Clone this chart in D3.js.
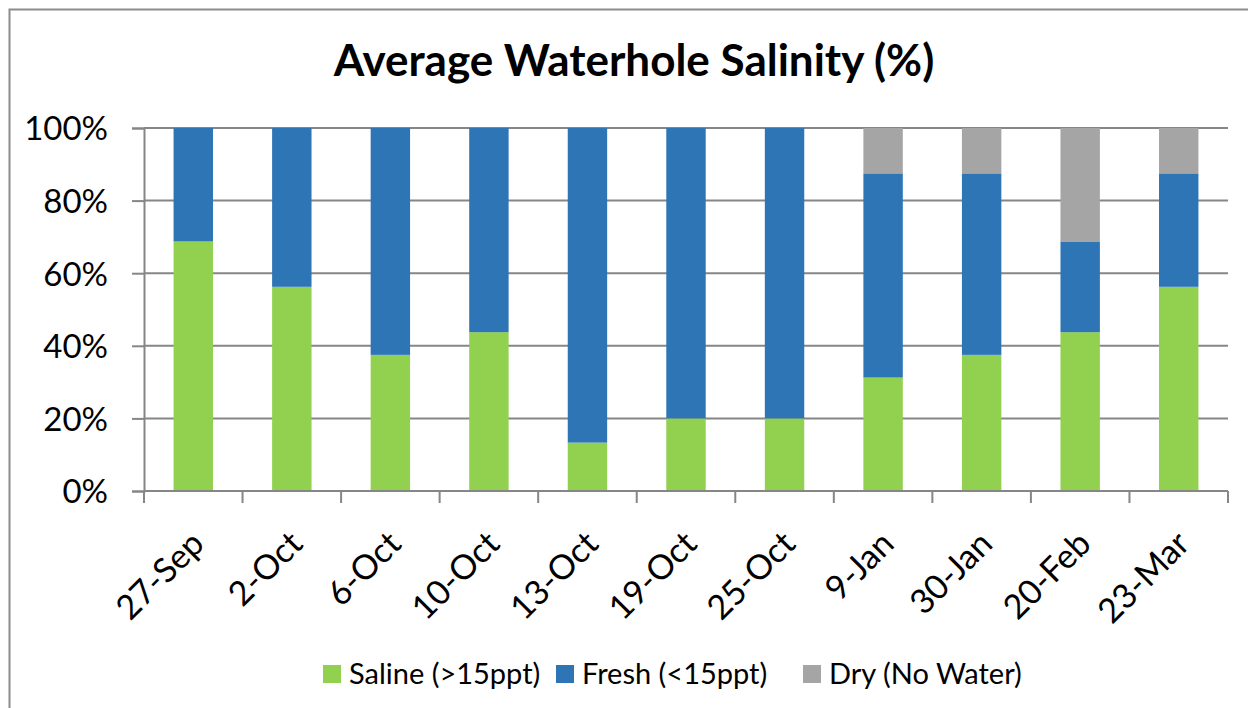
<!DOCTYPE html>
<html>
<head>
<meta charset="utf-8">
<script src="https://cdn.jsdelivr.net/npm/d3@7"></script>
<style>
  body { margin: 0; background: #fff; }
  text { font-family: Lato, "Liberation Sans", sans-serif; fill: #000; }
</style>
</head>
<body>
<svg width="1248" height="708"></svg>
<script>
var dates  = ["27-Sep", "2-Oct", "6-Oct", "10-Oct", "13-Oct", "19-Oct", "25-Oct", "9-Jan", "30-Jan", "20-Feb", "23-Mar"];
var saline = [68.75, 56.25, 37.5, 43.75, 13.33, 20, 20, 31.25, 37.5, 43.75, 56.25];
var fresh  = [31.25, 43.75, 62.5, 56.25, 86.67, 80, 80, 56.25, 50, 25, 31.25];
var dry    = [0, 0, 0, 0, 0, 0, 0, 12.5, 12.5, 31.25, 12.5];
var seriesNames = ["Saline (>15ppt)", "Fresh (<15ppt)", "Dry (No Water)"];
var yTicks = [0, 20, 40, 60, 80, 100];

var colors = ["#92D050", "#2E75B6", "#A5A5A5"];
var gridColor = "#868686";

var svg = d3.select("svg");

// outer chart border
svg.append("rect")
  .attr("x", 9.5).attr("y", 9.5)
  .attr("width", 1260).attr("height", 720)
  .attr("fill", "none")
  .attr("stroke", "#8c8c8c")
  .attr("stroke-width", 2);

svg.append("text")
  .attr("x", 634).attr("y", 76)
  .attr("text-anchor", "middle")
  .style("font-size", "44px")
  .style("font-weight", "bold")
  .text("Average Waterhole Salinity (%)");

var plotL = 144, plotR = 1228, plotT = 128, plotB = 491;

var x = d3.scaleBand()
  .domain(dates)
  .range([plotL, plotR])
  .paddingInner(0.6)
  .paddingOuter(0.3);

var y = d3.scaleLinear()
  .domain([0, 100])
  .range([plotB, plotT]);

// gridlines
svg.append("g")
  .selectAll("line")
  .data(yTicks)
  .enter().append("line")
    .attr("x1", plotL).attr("x2", plotR)
    .attr("y1", function(d){ return y(d); })
    .attr("y2", function(d){ return y(d); })
    .attr("stroke", gridColor)
    .attr("stroke-width", 2);

// stacked bars
var rows = dates.map(function(d, i){
  return {date: d, saline: saline[i], fresh: fresh[i], dry: dry[i]};
});
var stack = d3.stack().keys(["saline", "fresh", "dry"]);
var layers = stack(rows);

svg.append("g")
  .selectAll("g")
  .data(layers)
  .enter().append("g")
    .attr("fill", function(d, i){ return colors[i]; })
  .selectAll("rect")
  .data(function(d){ return d; })
  .enter().append("rect")
    .attr("x", function(d){ return x(d.data.date); })
    .attr("width", x.bandwidth())
    .attr("y", function(d){ return y(d[1]); })
    .attr("height", function(d){ return y(d[0]) - y(d[1]); });

// y axis
var yAxis = d3.axisLeft(y)
  .tickValues(yTicks)
  .tickSize(12)
  .tickPadding(24)
  .tickFormat(function(d){ return d + "%"; });

var yg = svg.append("g")
  .attr("transform", "translate(" + plotL + ",0)")
  .call(yAxis);
yg.select(".domain").attr("stroke", gridColor).attr("stroke-width", 2);
yg.selectAll(".tick line").attr("stroke", gridColor).attr("stroke-width", 2);
yg.selectAll(".tick text")
  .style("font-size", "33px")
  .style("font-family", "Lato, sans-serif")
  .attr("fill", "#000")
  .attr("dy", "0.36em");

// x axis line and category ticks
svg.append("line")
  .attr("x1", plotL).attr("x2", plotR)
  .attr("y1", plotB).attr("y2", plotB)
  .attr("stroke", gridColor).attr("stroke-width", 2);

var step = x.step();
var bounds = dates.map(function(d){ return x(d) + x.bandwidth() / 2 - step / 2; });
bounds.push(plotR);
svg.append("g")
  .selectAll("line")
  .data(bounds)
  .enter().append("line")
    .attr("x1", function(d){ return d; })
    .attr("x2", function(d){ return d; })
    .attr("y1", plotB).attr("y2", plotB + 12)
    .attr("stroke", gridColor).attr("stroke-width", 2);

svg.append("g")
  .selectAll("text")
  .data(dates)
  .enter().append("text")
    .attr("transform", function(d){
      return "translate(" + (x(d) + x.bandwidth() / 2 - 4) + "," + 529 + ") rotate(-45)";
    })
    .attr("text-anchor", "end")
    .attr("dy", "0.7em")
    .style("font-size", "34px")
    .text(function(d){ return d; });

// legend
var legendX = [323, 556, 803];
var lg = svg.append("g")
  .selectAll("g")
  .data(seriesNames)
  .enter().append("g")
    .attr("transform", function(d, i){ return "translate(" + legendX[i] + ",665)"; });
lg.append("rect")
  .attr("width", 18).attr("height", 18)
  .attr("fill", function(d, i){ return colors[i]; });
lg.append("text")
  .attr("x", 26).attr("y", 9)
  .attr("dy", "0.36em")
  .style("font-size", "29px")
  .text(function(d){ return d; });
</script>
</body>
</html>
